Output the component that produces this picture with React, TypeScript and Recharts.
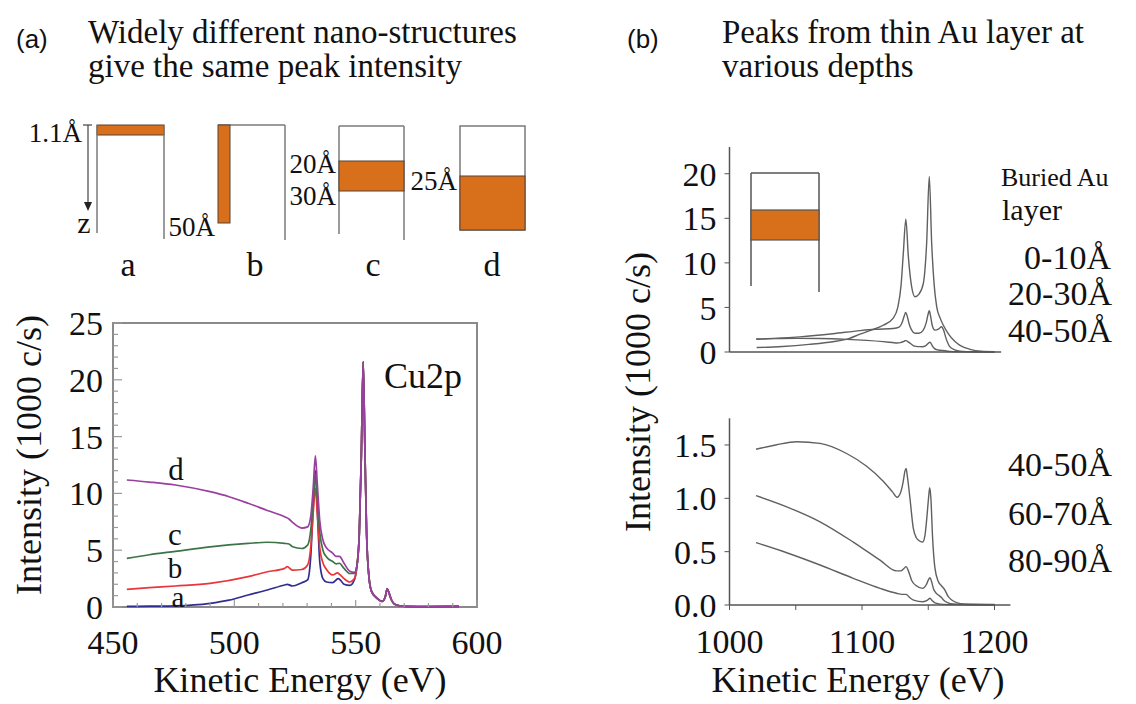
import React from 'react';
import { LineChart, Line, XAxis, YAxis, ReferenceArea } from 'recharts';

const SERIF = '"Liberation Serif", "Times New Roman", serif';
const SANS = '"Liberation Sans", Arial, sans-serif';

// ---------- Panel (a): Cu2p spectra, [kinetic energy eV, intensity 1000 c/s] ----------
const cu2pTail: [number, number][] = [
  [550.5, 3.6], [551.5, 6.5], [552.3, 13], [553.1, 21.6], [553.8, 14], [554.5, 6.5],
  [555.5, 2.6], [556.5, 1.4], [558.6, 0.8], [561, 0.5], [562.2, 0.9], [563, 1.6],
  [563.8, 1.2], [564.5, 0.75], [566.5, 0.2], [570.5, 0.05], [580, 0.03], [592.6, 0.05],
];
const curveA: [number, number][] = [
  [455.7, 0.05], [465, 0.07], [475.7, 0.1], [490, 0.32], [497.8, 0.6], [505.7, 1.06],
  [513.6, 1.5], [520.7, 1.94], [521.8, 2.0], [523.9, 1.85], [527.8, 2.14], [530.2, 2.38],
  [531.5, 4.5], [532.5, 8.8], [533.4, 12.0], [534.2, 8.5], [535.2, 4.0], [536.5, 2.5],
  [538, 2.2], [540.5, 2.15], [542.8, 2.5], [543.8, 2.35], [545.2, 2.0], [547.6, 1.9], [549.5, 2.4],
];
const curveB: [number, number][] = [
  [455.7, 1.56], [465, 1.7], [475.7, 1.85], [490, 2.08], [505.7, 2.67], [513.6, 3.1],
  [520.7, 3.4], [521.8, 3.55], [523.9, 3.25], [527.8, 3.3], [530.2, 3.7], [531.5, 5.3],
  [532.5, 8.3], [533.4, 10.45], [534.2, 8.2], [535.2, 5.2], [536.5, 3.9], [538, 3.3],
  [540.5, 2.82], [542.5, 3.0], [543.5, 2.85], [545.2, 2.5], [547.6, 2.2], [549.5, 2.5],
];
const curveC: [number, number][] = [
  [455.7, 4.28], [465, 4.6], [475.7, 4.9], [490, 5.3], [505.7, 5.6], [513.6, 5.7],
  [520.7, 5.6], [522.5, 5.55], [524, 5.3], [527.8, 5.15], [530.2, 5.45], [531.5, 6.8],
  [532.5, 9.3], [533.4, 11.7], [534.2, 9.5], [535.2, 6.6], [536.5, 5.0], [538, 4.4],
  [540.5, 4.0], [542, 3.8], [543.3, 3.85], [545.2, 3.4], [547.6, 2.95], [549.5, 2.95],
];
const curveD: [number, number][] = [
  [455.7, 11.18], [465, 11.0], [475.7, 10.74], [490, 10.15], [497.8, 9.71], [505.7, 9.13],
  [513.6, 8.5], [520.7, 7.95], [522.5, 7.75], [524, 7.45], [527.8, 6.95], [530.2, 7.05],
  [531.5, 8.0], [532.5, 10.5], [533.4, 13.3], [534.2, 10.8], [535.2, 7.6], [536.5, 5.9],
  [538, 5.2], [540.5, 4.75], [542, 4.45], [543.3, 4.45], [545.2, 3.85], [547.6, 3.15], [549.5, 3.05],
];
const aXTicks = [450, 460, 470, 480, 490, 500, 510, 520, 530, 540, 550, 560, 570, 580, 590, 600];
const aYTicks = [0, 1, 2, 3, 4, 5, 6, 7, 8, 9, 10, 11, 12, 13, 14, 15, 16, 17, 18, 19, 20, 21, 22, 23, 24, 25];

// ---------- Panel (b): buried Au layer spectra ----------
const au0to10: [number, number][] = [
  [1020.5, 0.5], [1040, 0.62], [1060, 0.85], [1078, 1.15], [1090, 1.5], [1098.5, 2.0],
  [1108, 2.5], [1116, 3.0], [1123.6, 3.8], [1127, 5.0], [1129.5, 7.5], [1131.2, 11.1],
  [1133.1, 14.9], [1135, 10.7], [1137.5, 7.3], [1140, 6.2], [1143, 6.5], [1146.3, 7.7],
  [1148.8, 12.2], [1150.8, 19.7], [1152.6, 12.2], [1154.5, 7.5], [1156.4, 5.07], [1159, 3.8],
  [1161.4, 3.0], [1165.1, 2.07], [1170, 1.2], [1174, 0.75], [1181.5, 0.3], [1190, 0.08], [1200, 0.03],
];
const au20to30: [number, number][] = [
  [1020.5, 1.43], [1053, 1.7], [1078, 2.05], [1098.5, 2.4], [1110, 2.55], [1123.6, 2.64],
  [1128, 2.8], [1130.5, 3.4], [1132, 4.1], [1133, 4.45], [1134, 4.1], [1135.5, 3.2],
  [1137.5, 2.45], [1140, 2.1], [1143, 2.1], [1146, 2.4], [1148.5, 3.3], [1150, 4.3],
  [1150.8, 4.62], [1151.8, 4.0], [1153, 3.0], [1155, 2.45], [1158, 2.6], [1160, 2.83],
  [1161.5, 2.5], [1163.5, 1.5], [1166.4, 0.57], [1170, 0.25], [1174, 0.1], [1185, 0.03], [1200, 0.01],
];
const au40to50: [number, number][] = [
  [1020, 1.46], [1035, 1.5], [1050.7, 1.53], [1068.3, 1.515], [1088.4, 1.42], [1103.5, 1.3],
  [1116, 1.16], [1123, 1.06], [1126.5, 1.01], [1129, 1.05], [1131, 1.15], [1132.5, 1.26],
  [1133.3, 1.28], [1134.3, 1.2], [1136.2, 1.0], [1138.7, 0.72], [1141, 0.63], [1143.5, 0.6],
  [1145.8, 0.59], [1147.5, 0.65], [1148.8, 0.8], [1150.2, 1.0], [1151.1, 1.1], [1152, 1.0],
  [1153.2, 0.65], [1155, 0.35], [1157.6, 0.22], [1160, 0.18], [1162.6, 0.14], [1165, 0.08],
  [1167.7, 0.047], [1172, 0.02], [1176.5, 0.01], [1200, 0.005],
];
const au60to70: [number, number][] = [
  [1020, 1.025], [1043.2, 0.92], [1068.3, 0.78], [1093.4, 0.59], [1113.6, 0.42], [1126, 0.32],
  [1129.5, 0.32], [1131.5, 0.34], [1133.3, 0.36], [1135, 0.32], [1137.5, 0.23], [1141, 0.18],
  [1145.8, 0.156], [1148.5, 0.19], [1150.3, 0.24], [1151.3, 0.256], [1152.5, 0.22], [1154, 0.15],
  [1156, 0.11], [1158, 0.09], [1160, 0.07], [1161.3, 0.05], [1165, 0.02], [1168.9, 0.01],
  [1180, 0.005], [1200, 0.003],
];
const au80to90: [number, number][] = [
  [1020, 0.585], [1043.2, 0.49], [1068.3, 0.375], [1093.4, 0.25], [1113.6, 0.156], [1126, 0.11],
  [1130, 0.1], [1133.3, 0.1], [1136, 0.07], [1139, 0.045], [1146, 0.03], [1149.5, 0.045],
  [1151.3, 0.063], [1153, 0.04], [1155, 0.02], [1161, 0.006], [1180, 0.003], [1200, 0.002],
];
const bTopYTicks = [0, 5, 10, 15, 20];
const bTopXTicks = [1050, 1100, 1150, 1200];
const bBotYTicks = [0, 0.5, 1, 1.5];
const bBotXTicks = [1000, 1050, 1100, 1150, 1200];

const toXY = (pts: [number, number][]) => pts.map(([x, y]) => ({ x, y }));

const ORANGE = '#d8701b';
const BOX = '#7a7a7a';

const AXTick = (props: any) => {
  const { x, y, payload } = props;
  const v = payload.value;
  const major = v % 50 === 0;
  return (
    <g>
      <line x1={x} x2={x} y1={y} y2={y - (major ? 7 : 4)} stroke="#9a9a9a" strokeWidth={1.2} />
      {major && (
        <text x={x} y={y + 47} textAnchor="middle" fontFamily={SERIF} fontSize={34} fill="#111">{v}</text>
      )}
    </g>
  );
};
const AYTick = (props: any) => {
  const { x, y, payload } = props;
  const v = payload.value;
  const major = v % 5 === 0;
  return (
    <g>
      <line x1={x} x2={x + (major ? 9 : 5)} y1={y} y2={y} stroke="#9a9a9a" strokeWidth={1.2} />
      {major && (
        <text x={x - 10} y={y} dy="0.35em" textAnchor="end" fontFamily={SERIF} fontSize={34} fill="#111">{v}</text>
      )}
    </g>
  );
};

const tickStyle = { fontSize: 34, fontFamily: SERIF, fill: '#111' };

export default function App() {
  const aSeries = [
    { id: 'a', color: '#2f2d92', pts: curveA.concat(cu2pTail) },
    { id: 'b', color: '#e8363a', pts: curveB.concat(cu2pTail) },
    { id: 'c', color: '#3d7447', pts: curveC.concat(cu2pTail) },
    { id: 'd', color: '#9a3ea0', pts: curveD.concat(cu2pTail) },
  ];
  const topSeries = [au0to10, au20to30, au40to50];
  const botSeries = [au40to50, au60to70, au80to90];

  return (
    <div style={{ position: 'absolute', left: 0, top: 0, width: 1136, height: 704, background: '#fff', overflow: 'hidden' }}>
      {/* Panel (a) chart */}
      <div style={{ position: 'absolute', left: 0, top: 300 }}>
        <LineChart width={600} height={404} margin={{ top: 23, right: 123, bottom: 37, left: 0 }}>
          <XAxis dataKey="x" type="number" domain={[450, 600]} ticks={aXTicks} interval={0}
            axisLine={false} tickLine={false} tickSize={0} tickMargin={0} height={60} tick={<AXTick />} />
          <YAxis type="number" domain={[0, 25]} ticks={aYTicks} interval={0}
            axisLine={false} tickLine={false} tickSize={0} tickMargin={0} width={113} tick={<AYTick />} />
          <ReferenceArea x1={450} x2={600} y1={0} y2={25} fill="none" stroke="#8a8a8a" strokeWidth={2} />
          {aSeries.map(s => (
            <Line key={s.id} data={toXY(s.pts)} dataKey="y" type="monotone" stroke={s.color}
              strokeWidth={1.7} dot={false} isAnimationActive={false} />
          ))}
        </LineChart>
      </div>

      {/* Panel (b) top chart */}
      <div style={{ position: 'absolute', left: 600, top: 120 }}>
        <LineChart width={536} height={260} margin={{ top: 27, right: 134.9, bottom: 8, left: 0 }}>
          <XAxis dataKey="x" type="number" domain={[1000, 1205]} ticks={bTopXTicks} interval={0}
            tick={false} tickSize={5} height={20}
            axisLine={{ stroke: '#555', strokeWidth: 1.5 }} tickLine={{ stroke: '#555' }} />
          <YAxis type="number" domain={[0, 23]} ticks={bTopYTicks} interval={0} width={129.5}
            tickSize={5} tickMargin={8} tick={tickStyle}
            axisLine={{ stroke: '#555', strokeWidth: 1.5 }} tickLine={{ stroke: '#555' }} />
          {topSeries.map((s, i) => (
            <Line key={i} data={toXY(s)} dataKey="y" type="monotone" stroke="#606060"
              strokeWidth={1.4} dot={false} isAnimationActive={false} />
          ))}
        </LineChart>
      </div>

      {/* Panel (b) bottom chart */}
      <div style={{ position: 'absolute', left: 600, top: 400 }}>
        <LineChart width={536} height={304} margin={{ top: 18.3, right: 125.6, bottom: 39, left: 0 }}>
          <XAxis dataKey="x" type="number" domain={[1000, 1212]} ticks={bBotXTicks} interval={0}
            tickFormatter={(v: number) => (v % 100 === 0 ? String(v) : '')}
            tickSize={5} tickMargin={19} height={60} tick={tickStyle}
            axisLine={{ stroke: '#555', strokeWidth: 1.5 }} tickLine={{ stroke: '#555' }} />
          <YAxis type="number" domain={[0, 1.75]} ticks={bBotYTicks} interval={0} width={129.5}
            tickFormatter={(v: number) => v.toFixed(1)}
            tickSize={5} tickMargin={8} tick={tickStyle}
            axisLine={{ stroke: '#555', strokeWidth: 1.5 }} tickLine={{ stroke: '#555' }} />
          {botSeries.map((s, i) => (
            <Line key={i} data={toXY(s)} dataKey="y" type="monotone" stroke="#606060"
              strokeWidth={1.4} dot={false} isAnimationActive={false} />
          ))}
        </LineChart>
      </div>

      {/* Annotations, titles and schematic diagrams */}
      <svg width={1136} height={704} style={{ position: 'absolute', left: 0, top: 0, pointerEvents: 'none' }}>
        <g fontFamily={SERIF} fill="#111">
          <text x={16} y={48} fontFamily={SANS} fontSize={26}>(a)</text>
          <text x={88} y={43} fontSize={33}>Widely different nano-structures</text>
          <text x={88} y={77} fontSize={33}>give the same peak intensity</text>
          <text x={627} y={48} fontFamily={SANS} fontSize={26}>(b)</text>
          <text x={722} y={43} fontSize={33}>Peaks from thin Au layer at</text>
          <text x={722} y={77} fontSize={33}>various depths</text>

          {/* diagram a */}
          <rect x={97} y={125} width={67} height={10} fill={ORANGE} stroke="#5a4030" strokeWidth={1} />
          <line x1={97} y1={125} x2={97} y2={233} stroke={BOX} strokeWidth={1.5} />
          <line x1={164} y1={125} x2={164} y2={239} stroke={BOX} strokeWidth={1.5} />
          <line x1={83} y1={125} x2={92} y2={125} stroke="#444" strokeWidth={1.2} />
          <line x1={88} y1={125} x2={88} y2={204} stroke="#444" strokeWidth={1.2} />
          <polygon points="84,202 92,202 88,211" fill="#222" />
          <text x={82} y={142} fontSize={27} textAnchor="end">1.1Å</text>
          <text x={84} y={233} fontSize={30} textAnchor="middle">z</text>
          <text x={128} y={276} fontSize={34} textAnchor="middle">a</text>

          {/* diagram b */}
          <line x1={218} y1={125} x2={285} y2={125} stroke={BOX} strokeWidth={1.5} />
          <line x1={285} y1={125} x2={285} y2={240} stroke={BOX} strokeWidth={1.5} />
          <rect x={218} y={125} width={12} height={98} fill={ORANGE} stroke="#5a4030" strokeWidth={1} />
          <text x={215} y={236} fontSize={27} textAnchor="end">50Å</text>
          <text x={255} y={276} fontSize={34} textAnchor="middle">b</text>

          {/* diagram c */}
          <line x1={339} y1={126} x2={404} y2={126} stroke={BOX} strokeWidth={1.5} />
          <line x1={339} y1={126} x2={339} y2={234} stroke={BOX} strokeWidth={1.5} />
          <line x1={404} y1={126} x2={404} y2={240} stroke={BOX} strokeWidth={1.5} />
          <rect x={339} y={161} width={65} height={30} fill={ORANGE} stroke="#5a4030" strokeWidth={1} />
          <text x={336} y={173} fontSize={27} textAnchor="end">20Å</text>
          <text x={336} y={205} fontSize={27} textAnchor="end">30Å</text>
          <text x={373} y={276} fontSize={34} textAnchor="middle">c</text>

          {/* diagram d */}
          <rect x={460} y={126} width={65} height={104} fill="none" stroke={BOX} strokeWidth={1.5} />
          <rect x={460} y={176} width={65} height={54} fill={ORANGE} stroke="#5a4030" strokeWidth={1} />
          <text x={457} y={190} fontSize={27} textAnchor="end">25Å</text>
          <text x={492} y={276} fontSize={34} textAnchor="middle">d</text>

          {/* panel a labels */}
          <text x={384} y={388} fontSize={36}>Cu2p</text>
          <text x={176} y={480} fontSize={31} textAnchor="middle">d</text>
          <text x={175} y={545} fontSize={31} textAnchor="middle">c</text>
          <text x={175} y={578} fontSize={29} textAnchor="middle">b</text>
          <text x={178} y={607} fontSize={29} textAnchor="middle">a</text>
          <text transform="translate(41,455) rotate(-90)" fontSize={36} textAnchor="middle">Intensity (1000 c/s)</text>
          <text x={300} y={692} fontSize={36} textAnchor="middle">Kinetic Energy (eV)</text>

          {/* panel b inset and labels */}
          <line x1={751} y1={173} x2={819} y2={173} stroke="#555" strokeWidth={1.5} />
          <line x1={751} y1={173} x2={751} y2={286} stroke="#555" strokeWidth={1.5} />
          <line x1={819} y1={173} x2={819} y2={292} stroke="#555" strokeWidth={1.5} />
          <rect x={751} y={210} width={68} height={30} fill={ORANGE} stroke="#555" strokeWidth={1.2} />
          <text x={1001} y={186} fontSize={26}>Buried Au</text>
          <text x={1002} y={220} fontSize={30}>layer</text>
          <text x={1111} y={269} fontSize={34} textAnchor="end">0-10Å</text>
          <text x={1112} y={305} fontSize={34} textAnchor="end">20-30Å</text>
          <text x={1112} y={342} fontSize={34} textAnchor="end">40-50Å</text>
          <text x={1112} y={476} fontSize={34} textAnchor="end">40-50Å</text>
          <text x={1112} y={525} fontSize={34} textAnchor="end">60-70Å</text>
          <text x={1112} y={572} fontSize={34} textAnchor="end">80-90Å</text>
          <text transform="translate(650,392) rotate(-90)" fontSize={36} textAnchor="middle">Intensity (1000 c/s)</text>
          <text x={858} y={692} fontSize={36} textAnchor="middle">Kinetic Energy (eV)</text>
        </g>
      </svg>
    </div>
  );
}
